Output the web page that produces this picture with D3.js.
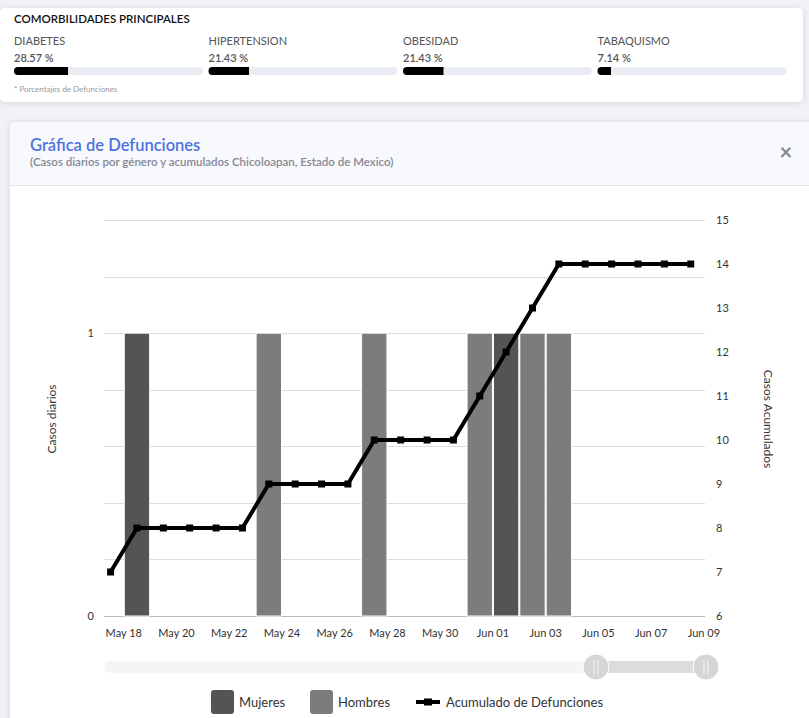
<!DOCTYPE html>
<html>
<head>
<meta charset="utf-8">
<script src="https://cdn.jsdelivr.net/npm/d3@7"></script>
<style>
  html, body { margin: 0; padding: 0; background: #f1f2f6; }
  svg { display: block; font-family: Lato, "Open Sans", sans-serif; }
</style>
</head>
<body>
<svg id="c" width="809" height="718"></svg>
<script>
// ---------- DATA ----------
const comorbNames = ["DIABETES", "HIPERTENSION", "OBESIDAD", "TABAQUISMO"];
const comorbValues = [28.57, 21.43, 21.43, 7.14];

const dates = ["2020-05-17","2020-05-18","2020-05-19","2020-05-20","2020-05-21","2020-05-22",
  "2020-05-23","2020-05-24","2020-05-25","2020-05-26","2020-05-27","2020-05-28","2020-05-29",
  "2020-05-30","2020-05-31","2020-06-01","2020-06-02","2020-06-03","2020-06-04","2020-06-05",
  "2020-06-06","2020-06-07","2020-06-08"];
const mujeres =   [0,1,0,0,0,0,0,0,0,0,0,0,0,0,0,1,0,0,0,0,0,0,0];
const hombres =   [0,0,0,0,0,0,1,0,0,0,1,0,0,0,1,0,1,1,0,0,0,0,0];
const acumulado = [7,8,8,8,8,8,9,9,9,9,10,10,10,10,11,12,13,14,14,14,14,14,14];

const xTickLabels = ["2020-05-18","2020-05-20","2020-05-22","2020-05-24","2020-05-26","2020-05-28",
  "2020-05-30","2020-06-01","2020-06-03","2020-06-05","2020-06-07","2020-06-09"];
const leftTicks = [0, 1];
const rightTicks = [6,7,8,9,10,11,12,13,14,15];
const seriesNames = ["Mujeres", "Hombres", "Acumulado de Defunciones"];
const seriesColors = ["#545454", "#7c7c7c", "#000000"];

// ---------- DRAW ----------
const svg = d3.select("#c");
const defs = svg.append("defs");
const f = defs.append("filter").attr("id","sh").attr("x","-5%").attr("y","-10%").attr("width","110%").attr("height","130%");
f.append("feDropShadow").attr("dx",0).attr("dy",1).attr("stdDeviation",3).attr("flood-color","#3a3b45").attr("flood-opacity",0.12);

// Top card
svg.append("rect").attr("x",0).attr("y",8).attr("width",803).attr("height",94).attr("rx",5)
  .attr("fill","#fff").attr("filter","url(#sh)");
svg.append("text").attr("x",14).attr("y",23).text("COMORBILIDADES PRINCIPALES")
  .attr("font-size",11.5).attr("font-weight",600).attr("fill","#111");

const colX = d3.scaleBand().domain(comorbNames).range([14, 792]).paddingInner(0);
const barW = 189;
const pct = d3.scaleLinear().domain([0,100]).range([0, barW]);
comorbNames.forEach((n,i) => {
  const x0 = colX(n);
  svg.append("text").attr("x",x0).attr("y",45).text(n).attr("font-size",11).attr("fill","#555");
  svg.append("text").attr("x",x0).attr("y",62).text(comorbValues[i].toFixed(2)+" %")
    .attr("font-size",11).attr("font-weight",600).attr("fill","#555");
  svg.append("rect").attr("x",x0).attr("y",67).attr("width",barW).attr("height",8).attr("rx",4).attr("fill","#eaecf4");
  svg.append("path").attr("fill","#000")
    .attr("d", (() => { const w = pct(comorbValues[i]); return `M${x0+4},67 H${x0+w} V75 H${x0+4} A4,4 0 0 1 ${x0+4},67 Z`; })());
});
svg.append("text").attr("x",14).attr("y",92).text("* Porcentajes  de Defunciones")
  .attr("font-size",8).attr("fill","#999");

// Chart card
svg.append("rect").attr("x",10).attr("y",122).attr("width",820).attr("height",620).attr("rx",5)
  .attr("fill","#fff").attr("filter","url(#sh)");
svg.append("path").attr("d","M10,185 V127 A5,5 0 0 1 15,122 H830 V185 Z").attr("fill","#f8f9fc");
svg.append("line").attr("x1",10).attr("x2",809).attr("y1",185.5).attr("y2",185.5).attr("stroke","#e3e6f0");
svg.append("text").attr("x",30).attr("y",151).text("Gráfica de Defunciones")
  .attr("font-size",16.5).attr("font-weight",600).attr("fill","#4e73df");
svg.append("text").attr("x",30).attr("y",166).text("(Casos diarios por género y acumulados Chicoloapan, Estado de Mexico)")
  .attr("font-size",11.5).attr("font-weight",600).attr("fill","#858796");
svg.append("text").attr("x",786).attr("y",160).text("×").attr("text-anchor","middle")
  .attr("font-size",22).attr("font-weight",700).attr("fill","#858796");

// Scales
const parse = d3.utcParse("%Y-%m-%d");
const x = d3.scaleUtc()
  .domain([new Date(Date.UTC(2020,4,17,6)), new Date(Date.UTC(2020,5,9,1))])
  .range([104, 705]);
const yL = d3.scaleLinear().domain([0, 1.4]).range([616, 220]);
const yR = d3.scaleLinear().domain([6, 15]).range([616, 220]);
const mid = s => d3.utcHour.offset(parse(s), 12);

// Gridlines
svg.append("g").selectAll("line").data(d3.range(0, 1.41, 0.2)).join("line")
  .attr("x1",104).attr("x2",705).attr("y1",d=>Math.round(yL(d))+0.5).attr("y2",d=>Math.round(yL(d))+0.5)
  .attr("stroke",(d,i)=> i===0 ? "#bbb" : "#dcdcdc");

// Left labels
svg.append("g").selectAll("text").data(leftTicks).join("text")
  .attr("x",94).attr("y",d=>yL(d)+4).attr("text-anchor","end").text(d=>d)
  .attr("font-size",11).attr("fill","#333");
// Right labels
svg.append("g").selectAll("text").data(rightTicks).join("text")
  .attr("x",716).attr("y",d=>yR(d)+4).text(d=>d)
  .attr("font-size",11).attr("fill","#333");
// X labels
const fmt = d3.utcFormat("%b %d");
svg.append("g").selectAll("text").data(xTickLabels).join("text")
  .attr("x",d=>x(parse(d))).attr("y",637).attr("text-anchor","middle").text(d=>fmt(parse(d)))
  .attr("font-size",11).attr("fill","#333");

// Axis titles
svg.append("text").attr("transform","translate(56,419) rotate(-90)").attr("text-anchor","middle")
  .text("Casos diarios").attr("font-size",12).attr("fill","#333");
svg.append("text").attr("transform","translate(764,419) rotate(90)").attr("text-anchor","middle")
  .text("Casos Acumulados").attr("font-size",12).attr("fill","#333");

// Stacked bars
const rows = dates.map((d,i)=>({date:d, Mujeres:mujeres[i], Hombres:hombres[i]}));
const stack = d3.stack().keys(["Mujeres","Hombres"])(rows);
svg.append("g").selectAll("g").data(stack).join("g").attr("fill",(d,i)=>seriesColors[i])
  .selectAll("rect").data(d=>d.filter(p=>p[1]-p[0]>0)).join("rect")
  .attr("x",d=>x(parse(d.data.date))+0.5)
  .attr("width",d=>x(d3.utcDay.offset(parse(d.data.date),1))-x(parse(d.data.date))-1)
  .attr("y",d=>yL(d[1])).attr("height",d=>yL(d[0])-yL(d[1]))
  .attr("stroke","#fff").attr("stroke-width",1);

// Cumulative line
const pts = dates.map((d,i)=>({t:mid(d), v:acumulado[i]}));
svg.append("path").datum(pts)
  .attr("d", d3.line().x(d=>x(d.t)).y(d=>yR(d.v)))
  .attr("fill","none").attr("stroke","#000").attr("stroke-width",4).attr("stroke-linejoin","miter");
svg.append("g").selectAll("rect").data(pts).join("rect")
  .attr("x",d=>x(d.t)-3.5).attr("y",d=>yR(d.v)-3.5).attr("width",7).attr("height",7).attr("fill","#000");

// Slider (data zoom)
svg.append("rect").attr("x",104).attr("y",661).attr("width",612).attr("height",12).attr("rx",6).attr("fill","#f5f5f5");
svg.append("rect").attr("x",596).attr("y",661).attr("width",110).attr("height",12).attr("fill","#dcdcdc");
[596, 706].forEach(cx => {
  svg.append("circle").attr("cx",cx).attr("cy",667).attr("r",13).attr("fill","#d6d6d6").attr("stroke","#fff").attr("stroke-width",1);
  [-2, 2].forEach(dx => svg.append("line").attr("x1",cx+dx).attr("x2",cx+dx).attr("y1",660).attr("y2",674)
    .attr("stroke","#f4f4f4").attr("stroke-width",1));
});

// Legend
const lg = svg.append("g");
[[211, 0], [310, 1]].forEach(([lx, i]) => {
  lg.append("rect").attr("x",lx).attr("y",690).attr("width",23).attr("height",24).attr("rx",3).attr("fill",seriesColors[i]);
  lg.append("text").attr("x",lx+28).attr("y",707).text(seriesNames[i]).attr("font-size",13).attr("fill","#333");
});
lg.append("line").attr("x1",416).attr("x2",440).attr("y1",702).attr("y2",702).attr("stroke","#000").attr("stroke-width",4);
lg.append("rect").attr("x",424).attr("y",698.5).attr("width",8).attr("height",7).attr("fill","#000");
lg.append("text").attr("x",446).attr("y",707).text(seriesNames[2]).attr("font-size",13).attr("fill","#333");
</script>
</body>
</html>
